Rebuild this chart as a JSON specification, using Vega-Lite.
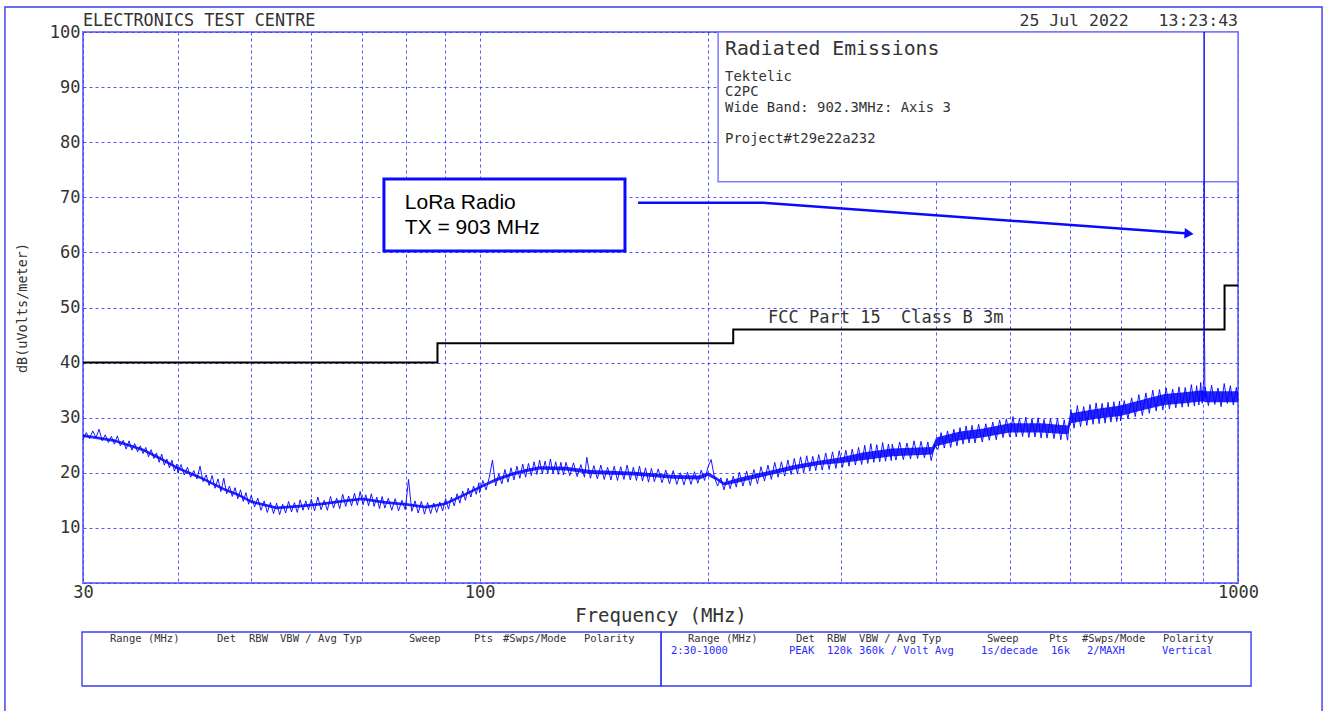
{
  "$schema": "https://vega.github.io/schema/vega-lite/v6.json",
  "autosize": {"type": "none"},
  "width": 1155,
  "height": 551,
  "padding": {"left": 83, "top": 32, "right": 85, "bottom": 128},
  "background": "white",
  "config": {
    "view": {"stroke": "#7b7bff", "strokeWidth": 2},
    "axis": {
      "labelFont": "DejaVu Sans Mono", "labelFontSize": 17, "labelColor": "#333",
      "titleFont": "DejaVu Sans Mono", "titleFontWeight": "normal", "titleColor": "#333",
      "gridColor": "#3a3aff", "gridDash": [3, 3], "gridWidth": 1, "gridOpacity": 0.85,
      "ticks": false, "domain": false
    }
  },
  "encoding": {
    "x": {
      "field": "f", "type": "quantitative",
      "scale": {"type": "log", "domain": [30, 1000], "nice": false},
      "axis": {
        "values": [30, 40, 50, 60, 70, 80, 90, 100, 200, 300, 400, 500, 600, 700, 800, 900, 1000],
        "labelExpr": "(datum.value == 30 || datum.value == 100 || datum.value == 1000) ? toString(datum.value) : ''",
        "labelFlush": false, "labelOverlap": false, "labelPadding": 1,
        "title": "Frequency (MHz)", "titleFontSize": 19, "titlePadding": 6, "grid": true
      }
    },
    "y": {
      "field": "v", "type": "quantitative",
      "scale": {"domain": [0, 100], "nice": false},
      "axis": {
        "values": [0, 10, 20, 30, 40, 50, 60, 70, 80, 90, 100],
        "labelExpr": "datum.value == 0 ? '' : toString(datum.value)",
        "labelPadding": 3, "labelOverlap": false,
        "title": "dB(uVolts/meter)", "titleFontSize": 13.5, "titlePadding": 20, "grid": true
      }
    }
  },
  "layer": [
    {
      "data": {"values": [{"f": 206.3, "f2": 1000, "v": 72.8, "v2": 100}]},
      "mark": {"type": "rect", "fill": "white", "stroke": "#7b7bff", "strokeWidth": 1.5},
      "encoding": {"x2": {"field": "f2"}, "y2": {"field": "v2"}}
    },
    {
      "data": {"values": [{"f": 74.8, "f2": 155.5, "v": 60.25, "v2": 73.3}]},
      "mark": {"type": "rect", "fill": "white", "stroke": "#0a0aff", "strokeWidth": 3},
      "encoding": {"x2": {"field": "f2"}, "y2": {"field": "v2"}}
    },
    {
      "data": {"values": [
        {"f": 30, "v": 40}, {"f": 88, "v": 43.5}, {"f": 216, "v": 46}, {"f": 960, "v": 54}, {"f": 1000, "v": 54}
      ]},
      "mark": {"type": "line", "interpolate": "step-after", "color": "black", "strokeWidth": 2},
      "encoding": {}
    },
    {
      "data": {"values": [
        {"f":30,"v":26.5,"v2":27.0},{"f":33,"v":25.6,"v2":26.1},{"f":36,"v":23.9,"v2":24.4},{"f":38,"v":22.3,"v2":22.8},
        {"f":40,"v":20.6,"v2":21.1},{"f":43,"v":18.8,"v2":19.3},{"f":46,"v":16.8,"v2":17.3},{"f":48,"v":15.8,"v2":16.3},
        {"f":50,"v":14.5,"v2":15.0},{"f":54,"v":13.4,"v2":13.9},{"f":58,"v":13.7,"v2":14.2},{"f":62,"v":14.1,"v2":14.6},
        {"f":66,"v":14.6,"v2":15.1},{"f":70,"v":15.0,"v2":15.5},{"f":75,"v":14.4,"v2":14.9},{"f":80,"v":14.0,"v2":14.5},
        {"f":85,"v":13.5,"v2":14.0},{"f":90,"v":14.1,"v2":14.6},{"f":95,"v":15.6,"v2":16.1},{"f":100,"v":17.1,"v2":17.6},
        {"f":105,"v":18.4,"v2":19.0},{"f":110,"v":19.4,"v2":20.0},{"f":115,"v":20.1,"v2":20.7},{"f":120,"v":20.6,"v2":21.2},
        {"f":130,"v":20.4,"v2":21.1},{"f":140,"v":19.8,"v2":20.5},{"f":160,"v":19.5,"v2":20.2},{"f":180,"v":18.9,"v2":19.6},
        {"f":195,"v":18.8,"v2":19.5},{"f":200,"v":19.4,"v2":20.1},{"f":205,"v":18.7,"v2":19.3},{"f":210,"v":17.7,"v2":18.3},
        {"f":220,"v":18.3,"v2":19.1},{"f":240,"v":19.5,"v2":20.3},{"f":260,"v":20.6,"v2":21.4},{"f":280,"v":21.4,"v2":22.2},
        {"f":300,"v":21.8,"v2":22.8},{"f":320,"v":22.3,"v2":23.7},{"f":350,"v":23.0,"v2":24.4},{"f":395,"v":23.3,"v2":24.7},
        {"f":400,"v":24.8,"v2":26.4},{"f":430,"v":25.9,"v2":27.5},{"f":460,"v":26.4,"v2":28.0},{"f":500,"v":27.3,"v2":29.0},
        {"f":550,"v":27.3,"v2":29.0},{"f":596,"v":27.0,"v2":28.6},{"f":602,"v":29.0,"v2":30.8},{"f":650,"v":29.8,"v2":31.6},
        {"f":700,"v":30.3,"v2":32.2},{"f":750,"v":31.4,"v2":33.3},{"f":800,"v":32.3,"v2":34.3},{"f":850,"v":32.6,"v2":34.6},
        {"f":900,"v":33.0,"v2":35.0},{"f":905,"v":32.8,"v2":34.8},{"f":950,"v":32.8,"v2":34.8},{"f":1000,"v":32.8,"v2":34.8}
      ]},
      "mark": {"type": "area", "color": "#0000ff", "opacity": 0.85},
      "encoding": {"y2": {"field": "v2"}}
    },
    {
      "data": {"values": [
        {"f":30.0,"v":26.0},{"f":30.3,"v":27.3},{"f":30.6,"v":26.2},{"f":30.9,"v":27.6},{"f":31.2,"v":26.4},{"f":31.5,"v":27.9},
        {"f":31.8,"v":25.8},{"f":32.1,"v":26.9},{"f":32.4,"v":25.5},{"f":32.7,"v":26.6},{"f":33.0,"v":25.2},{"f":33.3,"v":26.7},
        {"f":33.6,"v":24.9},{"f":33.9,"v":25.9},{"f":34.2,"v":24.3},{"f":34.5,"v":25.8},{"f":34.8,"v":24.1},{"f":35.1,"v":25.3},
        {"f":35.4,"v":23.8},{"f":35.7,"v":24.9},{"f":36.0,"v":23.5},{"f":36.3,"v":24.6},{"f":36.6,"v":22.9},{"f":36.9,"v":24.2},
        {"f":37.2,"v":22.6},{"f":37.5,"v":23.6},{"f":37.8,"v":21.9},{"f":38.1,"v":23.4},{"f":38.4,"v":21.4},{"f":38.7,"v":22.5},
        {"f":39.0,"v":20.9},{"f":39.3,"v":22.3},{"f":39.6,"v":20.3},{"f":39.9,"v":21.6},
        {"f":40.0,"v":20.0},{"f":40.4,"v":21.5},{"f":40.8,"v":19.6},{"f":41.2,"v":21.0},{"f":41.6,"v":19.2},{"f":42.0,"v":20.4},
        {"f":42.4,"v":18.9},{"f":42.8,"v":21.2},{"f":43.2,"v":18.4},{"f":43.6,"v":19.6},{"f":44.0,"v":17.7},{"f":44.4,"v":19.5},
        {"f":44.8,"v":17.2},{"f":45.2,"v":18.9},{"f":45.6,"v":16.6},{"f":46.0,"v":19.0},{"f":46.4,"v":16.2},{"f":46.8,"v":17.6},
        {"f":47.2,"v":15.7},{"f":47.6,"v":17.3},{"f":48.0,"v":15.3},{"f":48.4,"v":16.9},{"f":48.8,"v":14.8},{"f":49.2,"v":16.4},
        {"f":49.6,"v":14.3},
        {"f":50.0,"v":15.9},{"f":50.5,"v":13.8},{"f":51.0,"v":15.4},{"f":51.5,"v":13.2},{"f":52.0,"v":14.9},{"f":52.5,"v":12.8},
        {"f":53.0,"v":14.6},{"f":53.5,"v":12.6},{"f":54.0,"v":14.5},{"f":54.5,"v":12.4},{"f":55.0,"v":14.3},{"f":55.5,"v":12.7},
        {"f":56.0,"v":14.8},{"f":56.5,"v":12.9},{"f":57.0,"v":14.6},{"f":57.5,"v":12.8},{"f":58.0,"v":15.1},{"f":58.5,"v":13.2},
        {"f":59.0,"v":14.9},{"f":59.5,"v":13.3},
        {"f":60.0,"v":15.2},{"f":60.6,"v":13.1},{"f":61.2,"v":15.6},{"f":61.8,"v":13.3},{"f":62.4,"v":15.0},{"f":63.0,"v":13.2},
        {"f":63.6,"v":15.7},{"f":64.2,"v":13.6},{"f":64.8,"v":15.4},{"f":65.4,"v":13.5},{"f":66.0,"v":16.1},{"f":66.6,"v":13.9},
        {"f":67.2,"v":15.8},{"f":67.8,"v":14.0},{"f":68.4,"v":16.3},{"f":69.0,"v":14.1},{"f":69.6,"v":16.6},{"f":70.2,"v":14.2},
        {"f":70.8,"v":16.0},{"f":71.4,"v":14.0},{"f":72.0,"v":16.2},{"f":72.6,"v":13.9},{"f":73.2,"v":15.6},{"f":73.8,"v":13.5},
        {"f":74.4,"v":15.7},
        {"f":75.0,"v":13.6},{"f":75.8,"v":15.4},{"f":76.6,"v":13.2},{"f":77.4,"v":15.3},{"f":78.2,"v":13.1},{"f":79.0,"v":15.0},
        {"f":79.8,"v":13.3},{"f":80.6,"v":18.8},{"f":81.4,"v":13.0},{"f":82.2,"v":14.9},{"f":83.0,"v":12.7},{"f":83.8,"v":14.8},
        {"f":84.6,"v":12.5},{"f":85.4,"v":14.6},{"f":86.2,"v":12.6},{"f":87.0,"v":14.5},{"f":87.8,"v":12.8},{"f":88.6,"v":14.7},
        {"f":89.4,"v":13.1},{"f":90.2,"v":15.3},{"f":91.0,"v":13.4},{"f":91.8,"v":15.6},{"f":92.6,"v":14.0},{"f":93.4,"v":16.2},
        {"f":94.2,"v":14.5},{"f":95.0,"v":16.7},{"f":95.8,"v":15.0},{"f":96.6,"v":17.2},{"f":97.4,"v":15.6},{"f":98.2,"v":17.6},
        {"f":99.0,"v":16.1},{"f":99.8,"v":18.2},
        {"f":100,"v":16.4},{"f":101,"v":18.6},{"f":102,"v":16.9},{"f":103,"v":19.2},{"f":104,"v":22.3},{"f":105,"v":17.6},
        {"f":106,"v":19.8},{"f":107,"v":18.0},{"f":108,"v":20.6},{"f":109,"v":18.3},{"f":110,"v":20.9},{"f":111,"v":18.7},
        {"f":112,"v":21.2},{"f":113,"v":19.0},{"f":114,"v":21.6},{"f":115,"v":19.2},{"f":116,"v":21.7},{"f":117,"v":19.5},
        {"f":118,"v":22.0},{"f":119,"v":19.7},{"f":120,"v":22.3},{"f":121,"v":19.8},{"f":122,"v":22.1},{"f":123,"v":19.9},
        {"f":124,"v":22.5},{"f":125,"v":19.8},{"f":126,"v":22.0},{"f":127,"v":19.7},{"f":128,"v":21.9},{"f":129,"v":19.6},
        {"f":130.0,"v":21.9},{"f":131.5,"v":19.5},{"f":133.0,"v":21.8},{"f":134.5,"v":19.3},{"f":136.0,"v":21.5},{"f":137.5,"v":19.2},
        {"f":138.5,"v":22.8},{"f":140.0,"v":19.0},{"f":141.5,"v":21.3},{"f":143.0,"v":18.9},{"f":144.5,"v":21.4},{"f":146.0,"v":18.8},
        {"f":147.5,"v":21.0},{"f":149.0,"v":18.7},{"f":150.5,"v":21.2},{"f":152.0,"v":18.6},{"f":153.5,"v":21.1},{"f":155.0,"v":18.8},
        {"f":156.5,"v":21.4},{"f":158.0,"v":18.7},{"f":159.5,"v":21.0},{"f":161.0,"v":18.6},{"f":162.5,"v":21.2},{"f":164.0,"v":18.5},
        {"f":165.5,"v":20.9},{"f":167.0,"v":18.3},{"f":168.5,"v":20.8},
        {"f":170,"v":18.4},{"f":172,"v":20.7},{"f":174,"v":18.2},{"f":176,"v":20.5},{"f":178,"v":18.0},{"f":180,"v":20.4},
        {"f":182,"v":17.9},{"f":184,"v":20.0},{"f":186,"v":17.8},{"f":188,"v":20.1},{"f":190,"v":17.9},{"f":192,"v":20.2},
        {"f":194,"v":18.1},{"f":196,"v":20.5},{"f":198,"v":18.6},{"f":200,"v":21.0},{"f":202,"v":22.4},{"f":204,"v":19.2},
        {"f":206,"v":17.6},{"f":208,"v":19.1},{"f":210,"v":16.9},{"f":212,"v":19.0},{"f":214,"v":17.1},{"f":216,"v":19.4},
        {"f":218,"v":17.4},
        {"f":220.0,"v":20.1},{"f":222.5,"v":17.6},{"f":225.0,"v":20.3},{"f":227.5,"v":17.7},{"f":230.0,"v":20.6},{"f":232.5,"v":18.0},
        {"f":235.0,"v":21.1},{"f":237.5,"v":18.5},{"f":240.0,"v":21.4},{"f":242.5,"v":18.8},{"f":245.0,"v":21.9},{"f":247.5,"v":19.2},
        {"f":250.0,"v":22.0},{"f":252.5,"v":19.4},{"f":255.0,"v":22.3},{"f":257.5,"v":19.7},{"f":260.0,"v":22.6},{"f":262.5,"v":19.8},
        {"f":265.0,"v":22.9},{"f":267.5,"v":20.0},{"f":270.0,"v":23.1},{"f":272.5,"v":20.3},{"f":275.0,"v":23.0},{"f":277.5,"v":20.4},
        {"f":280,"v":23.3},{"f":283,"v":20.5},{"f":286,"v":23.6},{"f":289,"v":20.6},{"f":292,"v":23.8},{"f":295,"v":20.8},
        {"f":298,"v":24.0},{"f":301,"v":21.0},{"f":304,"v":24.1},{"f":307,"v":21.2},{"f":310,"v":24.3},{"f":313,"v":21.4},
        {"f":316,"v":24.6},{"f":319,"v":21.5},{"f":322,"v":25.0},{"f":325,"v":21.7},{"f":328,"v":25.3},{"f":331,"v":21.9},
        {"f":334,"v":25.1},{"f":337,"v":22.0},{"f":340,"v":25.5},{"f":343,"v":22.1},{"f":346,"v":25.2},{"f":349,"v":22.2},
        {"f":350,"v":25.2},{"f":354,"v":22.3},{"f":358,"v":25.6},{"f":362,"v":22.4},{"f":366,"v":25.4},{"f":370,"v":22.5},
        {"f":374,"v":25.8},{"f":378,"v":22.6},{"f":382,"v":25.7},{"f":386,"v":22.7},{"f":390,"v":25.6},{"f":394,"v":22.2},
        {"f":398,"v":25.1},{"f":402,"v":24.2},{"f":406,"v":27.3},{"f":410,"v":24.5},{"f":414,"v":27.6},{"f":418,"v":24.6},
        {"f":422,"v":27.9},{"f":426,"v":24.9},{"f":430,"v":28.2},{"f":434,"v":25.2},{"f":438,"v":28.5},{"f":442,"v":25.4},
        {"f":446,"v":28.6},
        {"f":450,"v":25.4},{"f":455,"v":28.8},{"f":460,"v":25.6},{"f":465,"v":28.9},{"f":470,"v":25.9},{"f":475,"v":29.2},
        {"f":480,"v":26.0},{"f":485,"v":29.6},{"f":490,"v":26.4},{"f":495,"v":29.8},{"f":500,"v":26.5},{"f":505,"v":30.2},
        {"f":510,"v":26.5},{"f":515,"v":29.9},{"f":520,"v":26.6},{"f":525,"v":30.1},{"f":530,"v":26.4},{"f":535,"v":29.8},
        {"f":540,"v":26.5},{"f":545,"v":30.0},{"f":550,"v":26.3},{"f":555,"v":29.7},
        {"f":560,"v":26.3},{"f":566,"v":29.8},{"f":572,"v":26.2},{"f":578,"v":29.9},{"f":584,"v":26.0},{"f":590,"v":29.6},
        {"f":596,"v":25.9},{"f":602,"v":31.5},{"f":608,"v":28.1},{"f":614,"v":32.2},{"f":620,"v":28.4},{"f":626,"v":32.0},
        {"f":632,"v":28.6},{"f":638,"v":32.4},{"f":644,"v":28.8},{"f":650,"v":32.7},{"f":656,"v":28.9},{"f":662,"v":32.6},
        {"f":668,"v":29.0},{"f":674,"v":32.8},{"f":680,"v":29.2},{"f":686,"v":32.9},{"f":692,"v":29.3},{"f":698,"v":33.0},
        {"f":700,"v":29.4},{"f":708,"v":33.1},{"f":716,"v":29.8},{"f":724,"v":33.6},{"f":732,"v":30.2},{"f":740,"v":34.2},
        {"f":748,"v":30.4},{"f":756,"v":34.5},{"f":764,"v":30.8},{"f":772,"v":35.0},{"f":780,"v":31.2},{"f":788,"v":35.1},
        {"f":796,"v":31.4},{"f":804,"v":35.4},{"f":812,"v":31.6},{"f":820,"v":35.2},{"f":828,"v":31.8},{"f":836,"v":35.6},
        {"f":844,"v":31.9},{"f":852,"v":35.5},{"f":860,"v":32.0},{"f":868,"v":36.0},{"f":876,"v":32.1},
        {"f":882,"v":35.8},{"f":888,"v":32.3},{"f":893,"v":36.4},{"f":897,"v":32.6},{"f":900,"v":35.9},{"f":901.5,"v":37.0},
        {"f":902.0,"v":100},{"f":902.6,"v":100},{"f":903.2,"v":44.5},{"f":903.8,"v":42.0},{"f":904.5,"v":33.5},
        {"f":905,"v":35.6},{"f":914,"v":32.2},{"f":923,"v":35.9},{"f":932,"v":32.4},{"f":941,"v":35.4},{"f":950,"v":32.0},
        {"f":959,"v":36.2},{"f":968,"v":32.6},{"f":977,"v":35.8},{"f":986,"v":32.3},{"f":995,"v":35.5},{"f":1000,"v":33.2}
      ]},
      "mark": {"type": "line", "color": "#0000ff", "strokeWidth": 0.9},
      "encoding": {}
    },
    {
      "data": {"values": [{"f": 161.8, "v": 69.0}, {"f": 236.4, "v": 69.0}, {"f": 851.5, "v": 63.47}]},
      "mark": {"type": "line", "color": "#0a0aff", "strokeWidth": 2.4},
      "encoding": {}
    },
    {
      "data": {"values": [{"f": 861.9, "v": 63.41}]},
      "mark": {"type": "point", "shape": "triangle-right", "angle": 4, "size": 110, "filled": true, "color": "#0a0aff", "opacity": 1}
    },
    {
      "data": {"values": [{"f": 30, "v": 102.0, "t": "ELECTRONICS TEST CENTRE"}]},
      "mark": {"type": "text", "align": "left", "baseline": "middle", "font": "DejaVu Sans Mono", "fontSize": 16.8, "color": "#333"},
      "encoding": {"text": {"field": "t"}}
    },
    {
      "data": {"values": [{"f": 1000, "v": 102.0, "t": "25 Jul 2022\u00a0\u00a0\u00a013:23:43"}]},
      "mark": {"type": "text", "align": "right", "baseline": "middle", "font": "DejaVu Sans Mono", "fontSize": 16.5, "color": "#333"},
      "encoding": {"text": {"field": "t"}}
    },
    {
      "data": {"values": [{"f": 210.7, "v": 96.9, "t": "Radiated Emissions"}]},
      "mark": {"type": "text", "align": "left", "baseline": "middle", "font": "DejaVu Sans Mono", "fontSize": 19.8, "color": "#333"},
      "encoding": {"text": {"field": "t"}}
    },
    {
      "data": {"values": [
        {"f": 210.7, "v": 91.8, "t": "Tektelic"},
        {"f": 210.7, "v": 89.1, "t": "C2PC"},
        {"f": 210.7, "v": 86.2, "t": "Wide Band: 902.3MHz: Axis 3"},
        {"f": 210.7, "v": 80.6, "t": "Project#t29e22a232"}
      ]},
      "mark": {"type": "text", "align": "left", "baseline": "middle", "font": "DejaVu Sans Mono", "fontSize": 13.9, "color": "#333"},
      "encoding": {"text": {"field": "t"}}
    },
    {
      "data": {"values": [
        {"f": 79.7, "v": 69.0, "t": "LoRa Radio"},
        {"f": 79.7, "v": 64.4, "t": "TX = 903 MHz"}
      ]},
      "mark": {"type": "text", "align": "left", "baseline": "middle", "font": "Liberation Sans", "fontSize": 21, "color": "black"},
      "encoding": {"text": {"field": "t"}}
    },
    {
      "data": {"values": [{"f": 240.1, "v": 48.1, "t": "FCC Part 15\u00a0\u00a0Class B 3m"}]},
      "mark": {"type": "text", "align": "left", "baseline": "middle", "font": "DejaVu Sans Mono", "fontSize": 17, "color": "#333"},
      "encoding": {"text": {"field": "t"}}
    },
    {
      "data": {"values": [
        {"f": 23.67, "f2": 1290.7, "v": -24.86, "v2": 104.54},
        {"f": 29.91, "f2": 173.5, "v": -18.69, "v2": -8.89},
        {"f": 173.5, "f2": 1040.4, "v": -18.69, "v2": -8.89}
      ]},
      "mark": {"type": "rect", "filled": false, "stroke": "#3a3aee", "strokeWidth": 1.4},
      "encoding": {"x2": {"field": "f2"}, "y2": {"field": "v2"}}
    },
    {
      "data": {"values": [
        {"f": 32.56, "v": -10.16, "t": "Range (MHz)"},
        {"f": 45.06, "v": -10.16, "t": "Det"},
        {"f": 49.66, "v": -10.16, "t": "RBW"},
        {"f": 54.56, "v": -10.16, "t": "VBW / Avg Typ"},
        {"f": 80.71, "v": -10.16, "t": "Sweep"},
        {"f": 98.33, "v": -10.16, "t": "Pts"},
        {"f": 107.38, "v": -10.16, "t": "#Swps/Mode"},
        {"f": 137.32, "v": -10.16, "t": "Polarity"},
        {"f": 188.3, "v": -10.16, "t": "Range (MHz)"},
        {"f": 261.3, "v": -10.16, "t": "Det"},
        {"f": 287.2, "v": -10.16, "t": "RBW"},
        {"f": 316.5, "v": -10.16, "t": "VBW / Avg Typ"},
        {"f": 466.7, "v": -10.16, "t": "Sweep"},
        {"f": 563.4, "v": -10.16, "t": "Pts"},
        {"f": 622.8, "v": -10.16, "t": "#Swps/Mode"},
        {"f": 796.4, "v": -10.16, "t": "Polarity"}
      ]},
      "mark": {"type": "text", "align": "left", "baseline": "middle", "font": "DejaVu Sans Mono", "fontSize": 10.5, "color": "#333"},
      "encoding": {"text": {"field": "t"}}
    },
    {
      "data": {"values": [
        {"f": 178.8, "v": -12.34, "t": "2:30-1000"},
        {"f": 255.8, "v": -12.34, "t": "PEAK"},
        {"f": 287.2, "v": -12.34, "t": "120k"},
        {"f": 316.5, "v": -12.34, "t": "360k / Volt Avg"},
        {"f": 458.3, "v": -12.34, "t": "1s/decade"},
        {"f": 566.8, "v": -12.34, "t": "16k"},
        {"f": 632.3, "v": -12.34, "t": "2/MAXH"},
        {"f": 794.0, "v": -12.34, "t": "Vertical"}
      ]},
      "mark": {"type": "text", "align": "left", "baseline": "middle", "font": "DejaVu Sans Mono", "fontSize": 10.5, "color": "#2a2aff"},
      "encoding": {"text": {"field": "t"}}
    }
  ]
}
